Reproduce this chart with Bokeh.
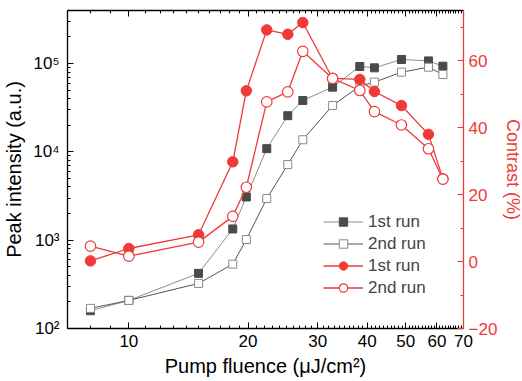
from bokeh.plotting import figure
from bokeh.models import (Range1d, LinearScale, LinearAxis, LogAxis, FixedTicker,
                          CustomJSTickFormatter, Legend, LegendItem)
from bokeh.embed import file_html
from bokeh.resources import INLINE

# ---- data ----
fluence = [8.0, 10.0, 15.0, 18.3, 19.8, 22.3, 25.2, 27.5, 32.7, 38.3, 41.7, 48.8, 57.1, 62.1]
peak_run1 = [159, 208, 421, 1340, 3085, 10870, 25650, 38150, 54000, 92500, 89400, 111000, 107000, 93200]
peak_run2 = [169, 208, 324, 535, 1018, 2960, 7170, 13700, 33500, 55400, 61500, 79800, 90800, 75100]
contrast_run1 = [0.2, 3.9, 8.0, 29.8, 51.0, 69.2, 67.9, 71.4, 54.7, 54.4, 50.8, 46.6, 38.0, 24.7]
contrast_run2 = [4.6, 1.6, 5.8, 13.5, 22.2, 47.7, 50.7, 62.8, 54.7, 51.1, 44.8, 40.8, 33.7, 24.6]

x_ticks = [10, 20, 30, 40, 50, 60, 70]
y_ticks = [1e2, 1e3, 1e4, 1e5]
c_ticks = [-20, 0, 20, 40, 60]
series_labels = ["1st run", "2nd run", "1st run", "2nd run"]

FONT = "Liberation Sans"
RED = "#f03a3a"
DARK = "#4a4a4a"
GRAY_OPEN = "#8a8a8a"

p = figure(frame_width=396, frame_height=318, x_axis_type="log", y_axis_type="log",
           x_range=Range1d(7, 70), y_range=Range1d(100, 10 ** 5.6),
           output_backend="svg", toolbar_location=None,
           min_border_left=67, min_border_right=50, min_border_top=10, min_border_bottom=52)
p.extra_y_ranges = {"c": Range1d(-20, 75)}
p.extra_y_scales = {"c": LinearScale()}
p.xgrid.visible = False
p.ygrid.visible = False
p.outline_line_color = None
p.background_fill_color = "white"
p.border_fill_color = "white"

x_minor = [v for v in range(7, 70) if v not in x_ticks]
y_minor = [k * 10 ** n for n in range(2, 6) for k in range(2, 10) if k * 10 ** n < 10 ** 5.6]

sup_js = """
const s = {'0':'\u2070','1':'\u00b9','2':'\u00b2','3':'\u00b3','4':'\u2074','5':'\u2075','6':'\u2076','7':'\u2077','8':'\u2078','9':'\u2079'};
const e = Math.round(Math.log10(tick)).toString();
return '10' + e.split('').map(c => s[c]).join('');
"""

def style_axis(ax, color="black"):
    ax.axis_line_color = color
    ax.axis_line_width = 1.3
    ax.major_tick_line_color = color
    ax.minor_tick_line_color = color
    ax.major_tick_in = 6
    ax.major_tick_out = 0
    ax.minor_tick_in = 3
    ax.minor_tick_out = 0
    ax.major_label_text_font = FONT
    ax.major_label_text_font_size = "17px"
    ax.major_label_text_color = color
    ax.axis_label_text_font = FONT
    ax.axis_label_text_font_size = "20px"
    ax.axis_label_text_font_style = "normal"
    ax.axis_label_text_color = color

# bottom axis
xa = p.xaxis[0]
xa.ticker = FixedTicker(ticks=x_ticks, minor_ticks=x_minor)
xa.formatter = CustomJSTickFormatter(code="return String(Math.round(tick));")
xa.axis_label = "Pump fluence (\u03bcJ/cm\u00b2)"
style_axis(xa)
xa.major_label_standoff = 6
xa.axis_label_standoff = 5

# left axis
ya = p.yaxis[0]
ya.ticker = FixedTicker(ticks=y_ticks, minor_ticks=y_minor)
ya.formatter = CustomJSTickFormatter(code=sup_js)
ya.axis_label = "Peak intensity (a.u.)"
style_axis(ya)
ya.major_label_standoff = 8
ya.axis_label_standoff = 5

# top axis (ticks only)
ta = LogAxis(ticker=FixedTicker(ticks=x_ticks, minor_ticks=x_minor))
style_axis(ta)
ta.formatter = CustomJSTickFormatter(code="return '';")
ta.major_label_standoff = 0
p.add_layout(ta, "above")

# right axis (contrast)
ra = LinearAxis(y_range_name="c", ticker=FixedTicker(ticks=c_ticks, minor_ticks=[-10, 10, 30, 50, 70]))
ra.axis_label = "Contrast (%)"
style_axis(ra, RED)
ra.major_label_standoff = 5
ra.axis_label_standoff = 3
ra.axis_label_text_font_size = "18px"
p.add_layout(ra, "right")

# ---- series ----
l1 = p.line(fluence, peak_run1, line_color="#8c8c8c", line_width=1)
s1 = p.scatter(fluence, peak_run1, marker="square", size=8, fill_color=DARK, line_color=DARK)
l2 = p.line(fluence, peak_run2, line_color="#555555", line_width=1)
s2 = p.scatter(fluence, peak_run2, marker="square", size=8, fill_color="white", line_color=GRAY_OPEN, line_width=1)
l3 = p.line(fluence, contrast_run1, line_color=RED, line_width=1.3, y_range_name="c")
s3 = p.scatter(fluence, contrast_run1, marker="circle", size=10.5, fill_color=RED, line_color=RED, y_range_name="c")
l4 = p.line(fluence, contrast_run2, line_color=RED, line_width=1.3, y_range_name="c")
s4 = p.scatter(fluence, contrast_run2, marker="circle", size=10.5, fill_color="white", line_color=RED, line_width=1.2, y_range_name="c")

legend = Legend(items=[
    LegendItem(label=series_labels[0], renderers=[l1, s1]),
    LegendItem(label=series_labels[1], renderers=[l2, s2]),
    LegendItem(label=series_labels[2], renderers=[l3, s3]),
    LegendItem(label=series_labels[3], renderers=[l4, s4]),
], location=(256, 30), orientation="vertical")
legend.border_line_color = None
legend.background_fill_alpha = 0
legend.label_text_font = FONT
legend.label_text_font_size = "17px"
legend.glyph_width = 40
legend.glyph_height = 21
legend.label_height = 21
legend.spacing = 1
legend.padding = 0
legend.margin = 0
legend.label_standoff = 5
p.add_layout(legend, "center")

open("out.html", "w").write(file_html(p, INLINE))
